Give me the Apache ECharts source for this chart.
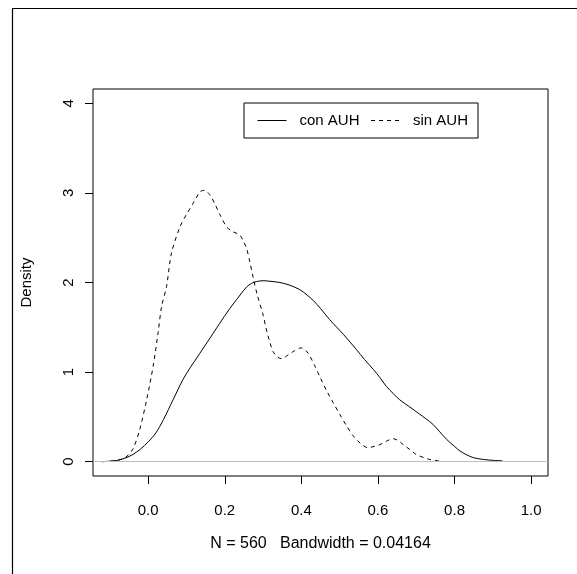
<!DOCTYPE html>
<html>
<head>
<meta charset="utf-8">
<script src="https://cdn.jsdelivr.net/npm/echarts@6/dist/echarts.min.js"></script>
<style>html,body{margin:0;padding:0;background:#fff;}#chart{width:577px;height:574px;}</style>
</head>
<body>
<div id="chart"></div>
<script>
// con AUH density curve
const conX = [-0.12,-0.10,-0.08,-0.06,-0.04,-0.02,0.00,0.02,0.04,0.065,0.09,0.11,0.135,0.16,0.18,0.205,0.222,0.24,0.257,0.27,0.283,0.30,0.326,0.344,0.37,0.396,0.415,0.431,0.45,0.474,0.51,0.544,0.565,0.588,0.605,0.622,0.64,0.657,0.68,0.709,0.725,0.744,0.76,0.779,0.80,0.814,0.83,0.849,0.875,0.90,0.925];
const conY = [0,0.005,0.015,0.04,0.08,0.14,0.22,0.32,0.47,0.69,0.91,1.05,1.21,1.37,1.50,1.66,1.76,1.86,1.95,1.99,2.01,2.02,2.01,2.00,1.97,1.92,1.86,1.80,1.71,1.585,1.42,1.25,1.14,1.03,0.94,0.84,0.76,0.69,0.62,0.53,0.48,0.415,0.34,0.25,0.17,0.12,0.08,0.045,0.025,0.015,0.01];
// sin AUH density curve
const sinX = [-0.12,-0.10,-0.08,-0.06,-0.04,-0.022,-0.004,0.013,0.026,0.035,0.048,0.061,0.083,0.10,0.117,0.135,0.146,0.161,0.175,0.187,0.205,0.22,0.239,0.25,0.257,0.265,0.274,0.285,0.30,0.309,0.318,0.326,0.337,0.348,0.365,0.379,0.40,0.412,0.422,0.435,0.448,0.465,0.483,0.50,0.518,0.535,0.553,0.574,0.59,0.605,0.625,0.64,0.653,0.666,0.685,0.70,0.72,0.735,0.762];
const sinY = [0,0.005,0.015,0.045,0.14,0.36,0.69,1.065,1.44,1.73,1.955,2.33,2.62,2.76,2.88,3.01,3.03,2.98,2.87,2.76,2.62,2.57,2.53,2.45,2.38,2.24,2.06,1.86,1.64,1.47,1.33,1.23,1.17,1.15,1.19,1.23,1.27,1.24,1.18,1.07,0.95,0.80,0.66,0.53,0.40,0.29,0.21,0.156,0.17,0.19,0.235,0.256,0.235,0.19,0.13,0.08,0.045,0.025,0.005];
const xTicks = [0.0,0.2,0.4,0.6,0.8,1.0];
const yTicks = [0,1,2,3,4];
const seriesNames = ['con AUH','sin AUH'];
const xTitle = 'N = 560   Bandwidth = 0.04164';
const yTitle = 'Density';

const zip = (a,b) => a.map((v,i) => [v,b[i]]);
const font = 'Liberation Sans, Arial, sans-serif';
const chart = echarts.init(document.getElementById('chart'), null, {renderer:'canvas'});
chart.setOption({
  animation: false,
  backgroundColor: '#ffffff',
  grid: {left: 93, top: 89, width: 455, height: 387, show: true, borderColor: '#000', borderWidth: 1, backgroundColor: 'transparent'},
  xAxis: {
    type: 'value', min: -0.144, max: 1.044,
    splitLine: {show: false},
    axisLine: {show: false, onZero: false},
    axisTick: {show: true, inside: false, length: 8, lineStyle: {color: '#000'}, customValues: xTicks},
    axisLabel: {show: true, margin: 27, fontSize: 15, fontFamily: font, color: '#000', customValues: xTicks,
      formatter: v => v.toFixed(1)},
    name: xTitle, nameLocation: 'middle', nameGap: 60,
    nameTextStyle: {fontSize: 16, fontFamily: font, color: '#000'}
  },
  yAxis: {
    type: 'value', min: -0.16, max: 4.16,
    splitLine: {show: false},
    axisLine: {show: false, onZero: false},
    axisTick: {show: true, inside: false, length: 8, lineStyle: {color: '#000'}, customValues: yTicks},
    axisLabel: {show: true, rotate: 90, margin: 17, fontSize: 15, fontFamily: font, color: '#000', customValues: yTicks,
      formatter: v => String(v)},
    name: yTitle, nameLocation: 'middle', nameGap: 59, nameRotate: 90,
    nameTextStyle: {fontSize: 15, fontFamily: font, color: '#000'}
  },
  legend: {
    left: 244, top: 103,
    orient: 'horizontal',
    padding: [10, 10, 10, 13],
    itemGap: 11, itemWidth: 29, itemHeight: 14,
    borderColor: '#000', borderWidth: 1, borderRadius: 0,
    backgroundColor: '#fff',
    itemStyle: {opacity: 0},
    lineStyle: {width: 1},
    data: seriesNames,
    textStyle: {fontSize: 15, fontFamily: font, color: '#000', padding: [0, 0, 0, 8]}
  },
  series: [
    {
      name: seriesNames[0], type: 'line', data: zip(conX, conY),
      symbol: 'none', smooth: 0.3, color: '#000',
      lineStyle: {color: '#000', width: 1, type: 'solid'},
      markLine: {silent: true, symbol: 'none', label: {show: false},
        lineStyle: {color: '#bebebe', width: 1, type: 'solid'}, data: [{yAxis: 0}]},
      z: 3
    },
    {
      name: seriesNames[1], type: 'line', data: zip(sinX, sinY),
      symbol: 'none', smooth: 0.3, color: '#000',
      lineStyle: {color: '#000', width: 1, type: [4, 4]},
      z: 3
    }
  ],
  graphic: [
    {type: 'line', shape: {x1: 12, y1: 8.5, x2: 577, y2: 8.5}, style: {stroke: '#000', lineWidth: 1.2}, silent: true},
    {type: 'line', shape: {x1: 12.5, y1: 8, x2: 12.5, y2: 574}, style: {stroke: '#000', lineWidth: 1.2}, silent: true}
  ]
});
</script>
</body>
</html>
